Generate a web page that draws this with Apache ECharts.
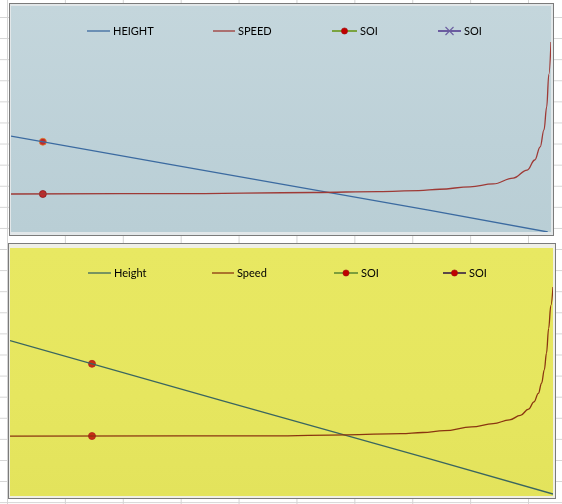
<!DOCTYPE html>
<html>
<head>
<meta charset="utf-8">
<script src="https://cdn.jsdelivr.net/npm/echarts@6/dist/echarts.min.js"></script>
<style>
html, body { margin: 0; padding: 0; }
body {
    width: 562px; height: 504px; overflow: hidden; position: relative;
    background-color: #fff;
    background-image: linear-gradient(to right, #d4d4d4 1px, transparent 1px),
                      linear-gradient(to bottom, #d4d4d4 1px, transparent 1px);
    background-size: 57.9px 21.1px;
    background-position: 7px 17px;
}
.panel { position: absolute; box-sizing: border-box; border: 1px solid #7b7b7b; }
.chart { position: absolute; }
#panelTop { left: 9px; top: 3px; width: 545px; height: 233px; background: #e2e7e9; }
#chartTop {
    left: 1px; top: 2px; width: 540px; height: 226px;
    background: linear-gradient(to bottom, #c4d6dc, #bdd1d8 60%, #b9ced5);
}
#panelBottom { left: 8px; top: 243px; width: 548px; height: 256px; background: #efefe6; }
#chartBottom {
    left: 1px; top: 4px; width: 543px; height: 248px;
    background: linear-gradient(to bottom, #e8e862, #e6e65f 60%, #e3e35c);
}
</style>
</head>
<body>
<div class="panel" id="panelTop"><div class="chart" id="chartTop"></div></div>
<div class="panel" id="panelBottom"><div class="chart" id="chartBottom"></div></div>
<script>
// upper chart (blue-grey)
const topNames = ['HEIGHT', 'SPEED', 'SOI', 'SOI'];
const topHeightT = [0, 29.4, 77.6, 99.4];
const topHeight = [50.5, 35.6, 11.4, 0];
const topSpeedT = [0, 30, 56, 68, 75.5, 79.4, 85, 89.3, 93, 95.6, 97, 98, 98.7, 99.2, 99.6, 100];
const topSpeed = [20.0, 20.2, 20.8, 21.3, 21.8, 22.5, 23.8, 25.3, 28.4, 32.6, 37.9, 44.8, 53.7, 65.8, 83.0, 100];
const topSoiT = [5.9];
const topSoiHeight = [47.5];
const topSoiSpeed = [20.0];

// lower chart (yellow)
const botNames = ['Height', 'Speed', 'SOI', 'SOI'];
const botHeightT = [0, 38.7, 77.3, 100];
const botHeight = [74.1, 45.4, 17.0, 0];
const botSpeedT = [0, 48, 62, 72, 76, 80, 85, 89, 92, 94, 95.5, 96.5, 97.3, 97.9, 98.4, 98.8, 99.2, 99.6, 100];
const botSpeed = [28.0, 28.1, 28.6, 29.2, 29.7, 30.6, 32.4, 34.0, 35.8, 38.0, 41.0, 44.5, 48.6, 53.5, 60, 68, 80, 91, 100];
const botSoiT = [15.1];
const botSoiHeight = [62.9];
const botSoiSpeed = [28.0];

function pairs(xs, ys) {
    return xs.map((x, i) => [x, ys[i]]);
}

// legend drawn by hand so the odd excel keys (line + marker) come out right
function legendItem(name, x1, x2, y, lineColor, marker) {
    let els = [{
        type: 'line',
        shape: { x1: x1, y1: y, x2: x2, y2: y },
        style: { stroke: lineColor, lineWidth: marker ? 2 : 1.3 }
    }];
    let mx = (x1 + x2) / 2;
    if (marker === 'dot') {
        els.push({
            type: 'circle',
            shape: { cx: mx, cy: y, r: 3.1 },
            style: { fill: '#c00000', stroke: '#a01010', lineWidth: 0.6 }
        });
    } else if (marker === 'cross') {
        els.push({
            type: 'polyline',
            shape: { points: [[mx - 4, y - 4], [mx + 4, y + 4]] },
            style: { stroke: lineColor, lineWidth: 1.1 }
        });
        els.push({
            type: 'polyline',
            shape: { points: [[mx - 4, y + 4], [mx + 4, y - 4]] },
            style: { stroke: lineColor, lineWidth: 1.1 }
        });
    }
    els.push({
        type: 'text',
        style: {
            text: name, x: x2 + 3, y: y,
            font: '11px Lato, "Liberation Sans", sans-serif',
            fill: '#000', verticalAlign: 'middle'
        }
    });
    return els;
}

function makeOptions(cfg) {
    let lg = [];
    cfg.legend.forEach(function (it, i) {
        lg = lg.concat(legendItem(cfg.names[i], it[0], it[1], cfg.legendY, it[2], it[3]));
    });
    return {
        animation: false,
        graphic: lg,
        grid: { left: 0, right: 0, top: cfg.top, bottom: cfg.bottom },
        xAxis: { type: 'value', min: 0, max: 100, show: false },
        yAxis: { type: 'value', min: 0, max: 100, show: false },
        series: [
            {
                name: cfg.names[0], type: 'line', symbol: 'none', clip: false,
                lineStyle: { color: cfg.heightColor, width: 1.3 },
                data: cfg.height
            },
            {
                name: cfg.names[1], type: 'line', symbol: 'none', clip: false,
                smooth: 0.4, smoothMonotone: 'x',
                lineStyle: { color: cfg.speedColor, width: 1.3 },
                data: cfg.speed
            },
            {
                name: cfg.names[2], type: 'scatter', symbolSize: 7,
                itemStyle: { color: '#c00000', borderColor: cfg.soiBorder[0], borderWidth: 1 },
                data: cfg.soi1
            },
            {
                name: cfg.names[3] + ' ', type: 'scatter', symbolSize: 7,
                itemStyle: { color: '#c00000', borderColor: cfg.soiBorder[1], borderWidth: 1 },
                data: cfg.soi2
            }
        ]
    };
}

let topChart = echarts.init(document.getElementById('chartTop'));
topChart.setOption(makeOptions({
    names: topNames,
    legendY: 25,
    legend: [
        [76, 99, '#3b6aa0'],
        [202, 224, '#9e3a36'],
        [321, 346, '#7aa340', 'dot'],
        [427, 450, '#6a5ca0', 'cross']
    ],
    top: 36, bottom: 0,
    heightColor: '#3b6aa0',
    speedColor: '#9e3a36',
    soiBorder: ['#e0802a', '#8a1a1a'],
    height: pairs(topHeightT, topHeight),
    speed: pairs(topSpeedT, topSpeed),
    soi1: pairs(topSoiT, topSoiHeight),
    soi2: pairs(topSoiT, topSoiSpeed)
}));

let botChart = echarts.init(document.getElementById('chartBottom'));
botChart.setOption(makeOptions({
    names: botNames,
    legendY: 25,
    legend: [
        [78, 101, '#3a6660'],
        [202, 224, '#8a3510'],
        [324, 348, '#7c9e3c', 'dot'],
        [433, 456, '#5a4848', 'dot']
    ],
    top: 39, bottom: 2,
    heightColor: '#3a6660',
    speedColor: '#8a3510',
    soiBorder: ['#b02020', '#b02020'],
    height: pairs(botHeightT, botHeight),
    speed: pairs(botSpeedT, botSpeed),
    soi1: pairs(botSoiT, botSoiHeight),
    soi2: pairs(botSoiT, botSoiSpeed)
}));
</script>
</body>
</html>
